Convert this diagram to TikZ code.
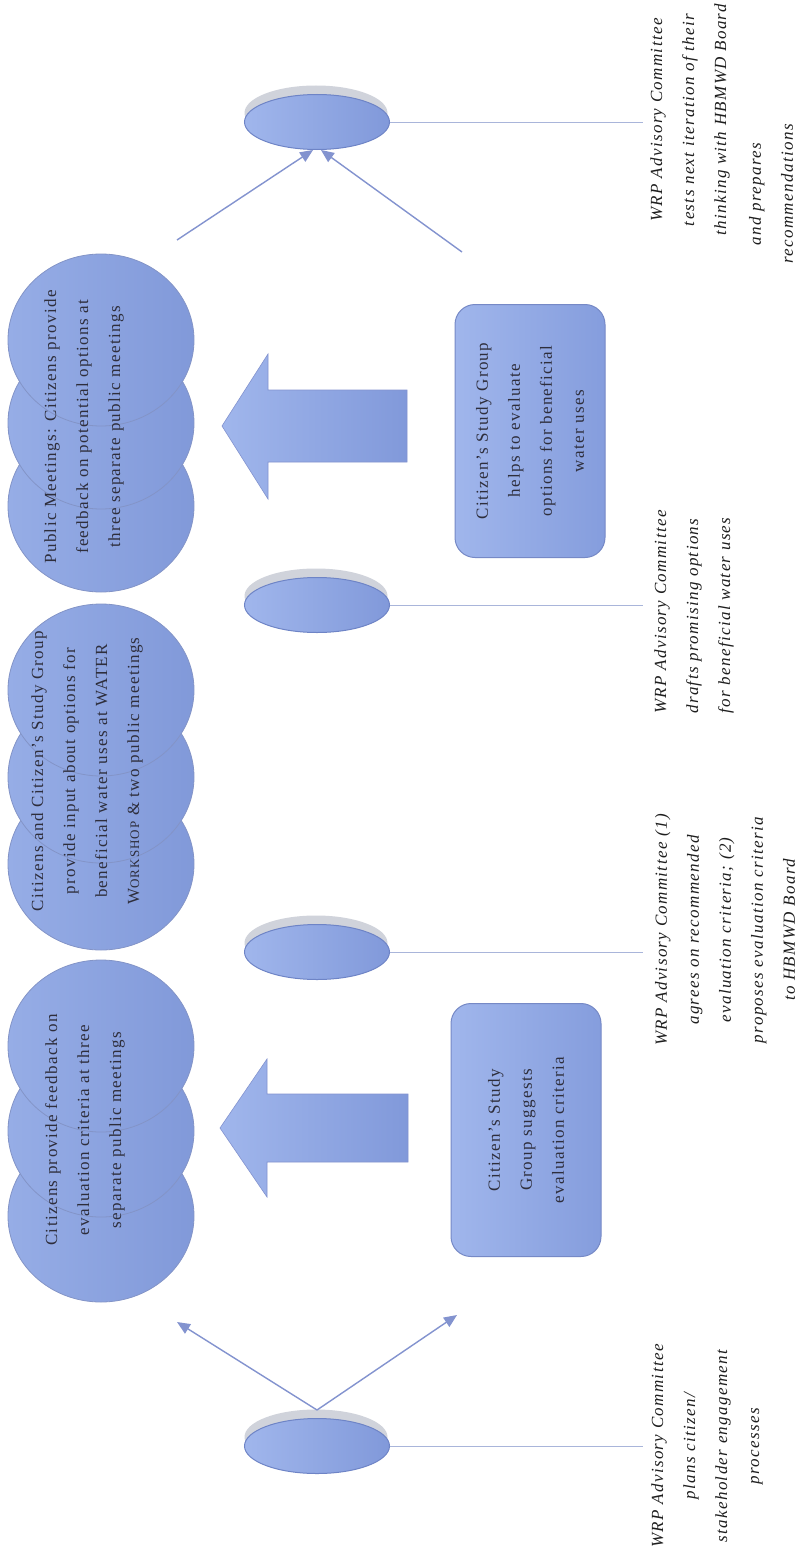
\documentclass[tikz,border=0pt]{standalone}
\usepackage{fontspec}
\setmainfont{Liberation Serif}
\newfontfamily\circfont[LetterSpace=8]{Liberation Serif}
\newfontfamily\labfont[LetterSpace=8]{Liberation Serif}
\usetikzlibrary{shapes.geometric,arrows.meta}
\definecolor{discborder}{HTML}{6E84C6}
\definecolor{discleft}{HTML}{A0B6EC}
\definecolor{discright}{HTML}{8199DA}
\definecolor{shadowgray}{HTML}{D0D3DB}
\definecolor{circleft}{HTML}{96ADE6}
\definecolor{circright}{HTML}{8199D9}
\definecolor{circborder}{HTML}{7D8CBD}
\definecolor{boxleft}{HTML}{A0B6EC}
\definecolor{boxright}{HTML}{859DDD}
\definecolor{boxborder}{HTML}{7689C6}
\definecolor{arrowblue}{HTML}{8393CF}
\definecolor{connline}{HTML}{A9B5DA}
\definecolor{labtext}{HTML}{1E1E1E}
\definecolor{circtext}{HTML}{2E2E3C}
\tikzset{
  disc/.style={ellipse, draw=discborder, line width=1pt, left color=discleft, right color=discright,
    minimum width=145pt, minimum height=55pt, inner sep=0pt},
  discshadow/.style={ellipse, fill=shadowgray, minimum width=143pt, minimum height=55pt, inner sep=0pt},
  circ/.style={ellipse, draw=circborder!75!circleft, line width=0.8pt, left color=circleft, right color=circright,
    minimum width=186pt, minimum height=172pt, inner sep=0pt},
  circtxt/.style={rotate=90, align=center, text=circtext, inner sep=0pt,
    font=\circfont\fontsize{17}{32}\selectfont},
  sgbox/.style={rectangle, rounded corners=20pt, draw=boxborder, line width=1pt, left color=boxleft, right color=boxright,
    rotate=90, minimum width=253pt, minimum height=150pt, align=center, text=circtext,
    font=\circfont\fontsize{17}{32}\selectfont},
  blockarrow/.style={draw=arrowblue, line width=0.6pt, left color=boxleft, right color=discright},
  thinarrow/.style={draw=arrowblue, line width=1.4pt, -{Triangle[length=13pt,width=11pt]}},
  conn/.style={draw=connline, line width=0.9pt},
  labtxt/.style={rotate=90, align=center, text=labtext, inner sep=0pt,
    font=\labfont\itshape\fontsize{17}{32}\selectfont}
}
\begin{document}
\begin{tikzpicture}[x=1pt,y=-1pt]
\useasboundingbox (0,0) rectangle (801,1560);
\fill[white] (0,0) rectangle (801,1560);

% ---- circle groups (drawn bottom to top so the upper circles lie on top)
\node[circ] (g1c) at (101,1216) {};
\node[circ] (g1b) at (101,1131) {};
\node[circ] (g1a) at (101,1046) {};
\node[circtxt] (g1t) at (85,1130) {Citizens provide feedback on\\evaluation criteria at three\\separate public meetings};

\node[circ] (g2c) at (101,864) {};
\node[circ] (g2b) at (101,777) {};
\node[circ] (g2a) at (101,690) {};
\node[circtxt] (g2t) at (87,771) {Citizens and Citizen’s Study Group\\provide input about options for\\beneficial water uses at WATER\\W{\fontsize{13}{32}\selectfont ORKSHOP} \& two public meetings};

\node[circ] (g3c) at (101,506) {};
\node[circ] (g3b) at (101,423) {};
\node[circ] (g3a) at (101,340) {};
\node[circtxt] (g3t) at (84,427) {Public Meetings: Citizens provide\\feedback on potential options at\\three separate public meetings};

% ---- block arrows
\path[blockarrow] (220,1128) -- (267,1059) -- (267,1094) -- (408,1094) -- (408,1162) -- (267,1162) -- (267,1197) -- cycle;
\path[blockarrow] (222,426) -- (268,354) -- (268,390) -- (407,390) -- (407,462) -- (268,462) -- (268,499) -- cycle;

% ---- study group boxes
\node[sgbox] (b1) at (526,1130) {Citizen’s Study\\Group suggests\\evaluation criteria};
\node[sgbox] (b2) at (530,431) {Citizen’s Study Group\\helps to evaluate\\options for beneficial\\water uses};

% ---- committee discs
\node[discshadow] (s1) at (316,1437) {};
\node[disc] (e1) at (317,1446) {};
\node[discshadow] (s2) at (316,943) {};
\node[disc] (e2) at (317,952) {};
\node[discshadow] (s3) at (316,596) {};
\node[disc] (e3) at (317,605) {};
\node[discshadow] (s4) at (316,113) {};
\node[disc] (e4) at (317,122) {};

% ---- free ends
\coordinate (t1l) at (177,1322);
\coordinate (t1r) at (457,1315);
\coordinate (t4l) at (177,240);
\coordinate (t4r) at (462,252);
\coordinate (c1) at (643,1446);
\coordinate (c2) at (643,952);
\coordinate (c3) at (643,605);
\coordinate (c4) at (643,122);

% ---- thin arrows
\draw[thinarrow] ([yshift=8pt]e1.north) -- (t1l);
\draw[thinarrow] ([yshift=8pt]e1.north) -- (t1r);
\draw[thinarrow] (t4l) -- (e4.262);
\draw[thinarrow] (t4r) -- (e4.278);

% ---- connector lines to labels
\draw[conn] (e1.east) -- (c1);
\draw[conn] (e2.east) -- (c2);
\draw[conn] (e3.east) -- (c3);
\draw[conn] (e4.east) -- (c4);

% ---- committee labels
\node[labtxt] (l1) at (707,1446) {WRP Advisory Committee\\plans citizen/\\stakeholder engagement\\processes};
\node[labtxt] (l2) at (725,930) {WRP Advisory Committee (1)\\agrees on recommended\\evaluation criteria; (2)\\proposes evaluation criteria\\to HBMWD Board};
\node[labtxt, align=left] (l3) at (694,612) {WRP Advisory Committee\\drafts promising options\\for beneficial water uses};
\node[labtxt] (l4a) at (690,120) {WRP Advisory Committee\\tests next iteration of their\\thinking with HBMWD Board};
\node[labtxt] (l4b) at (771,194) {and prepares\\recommendations};
\end{tikzpicture}
\end{document}
